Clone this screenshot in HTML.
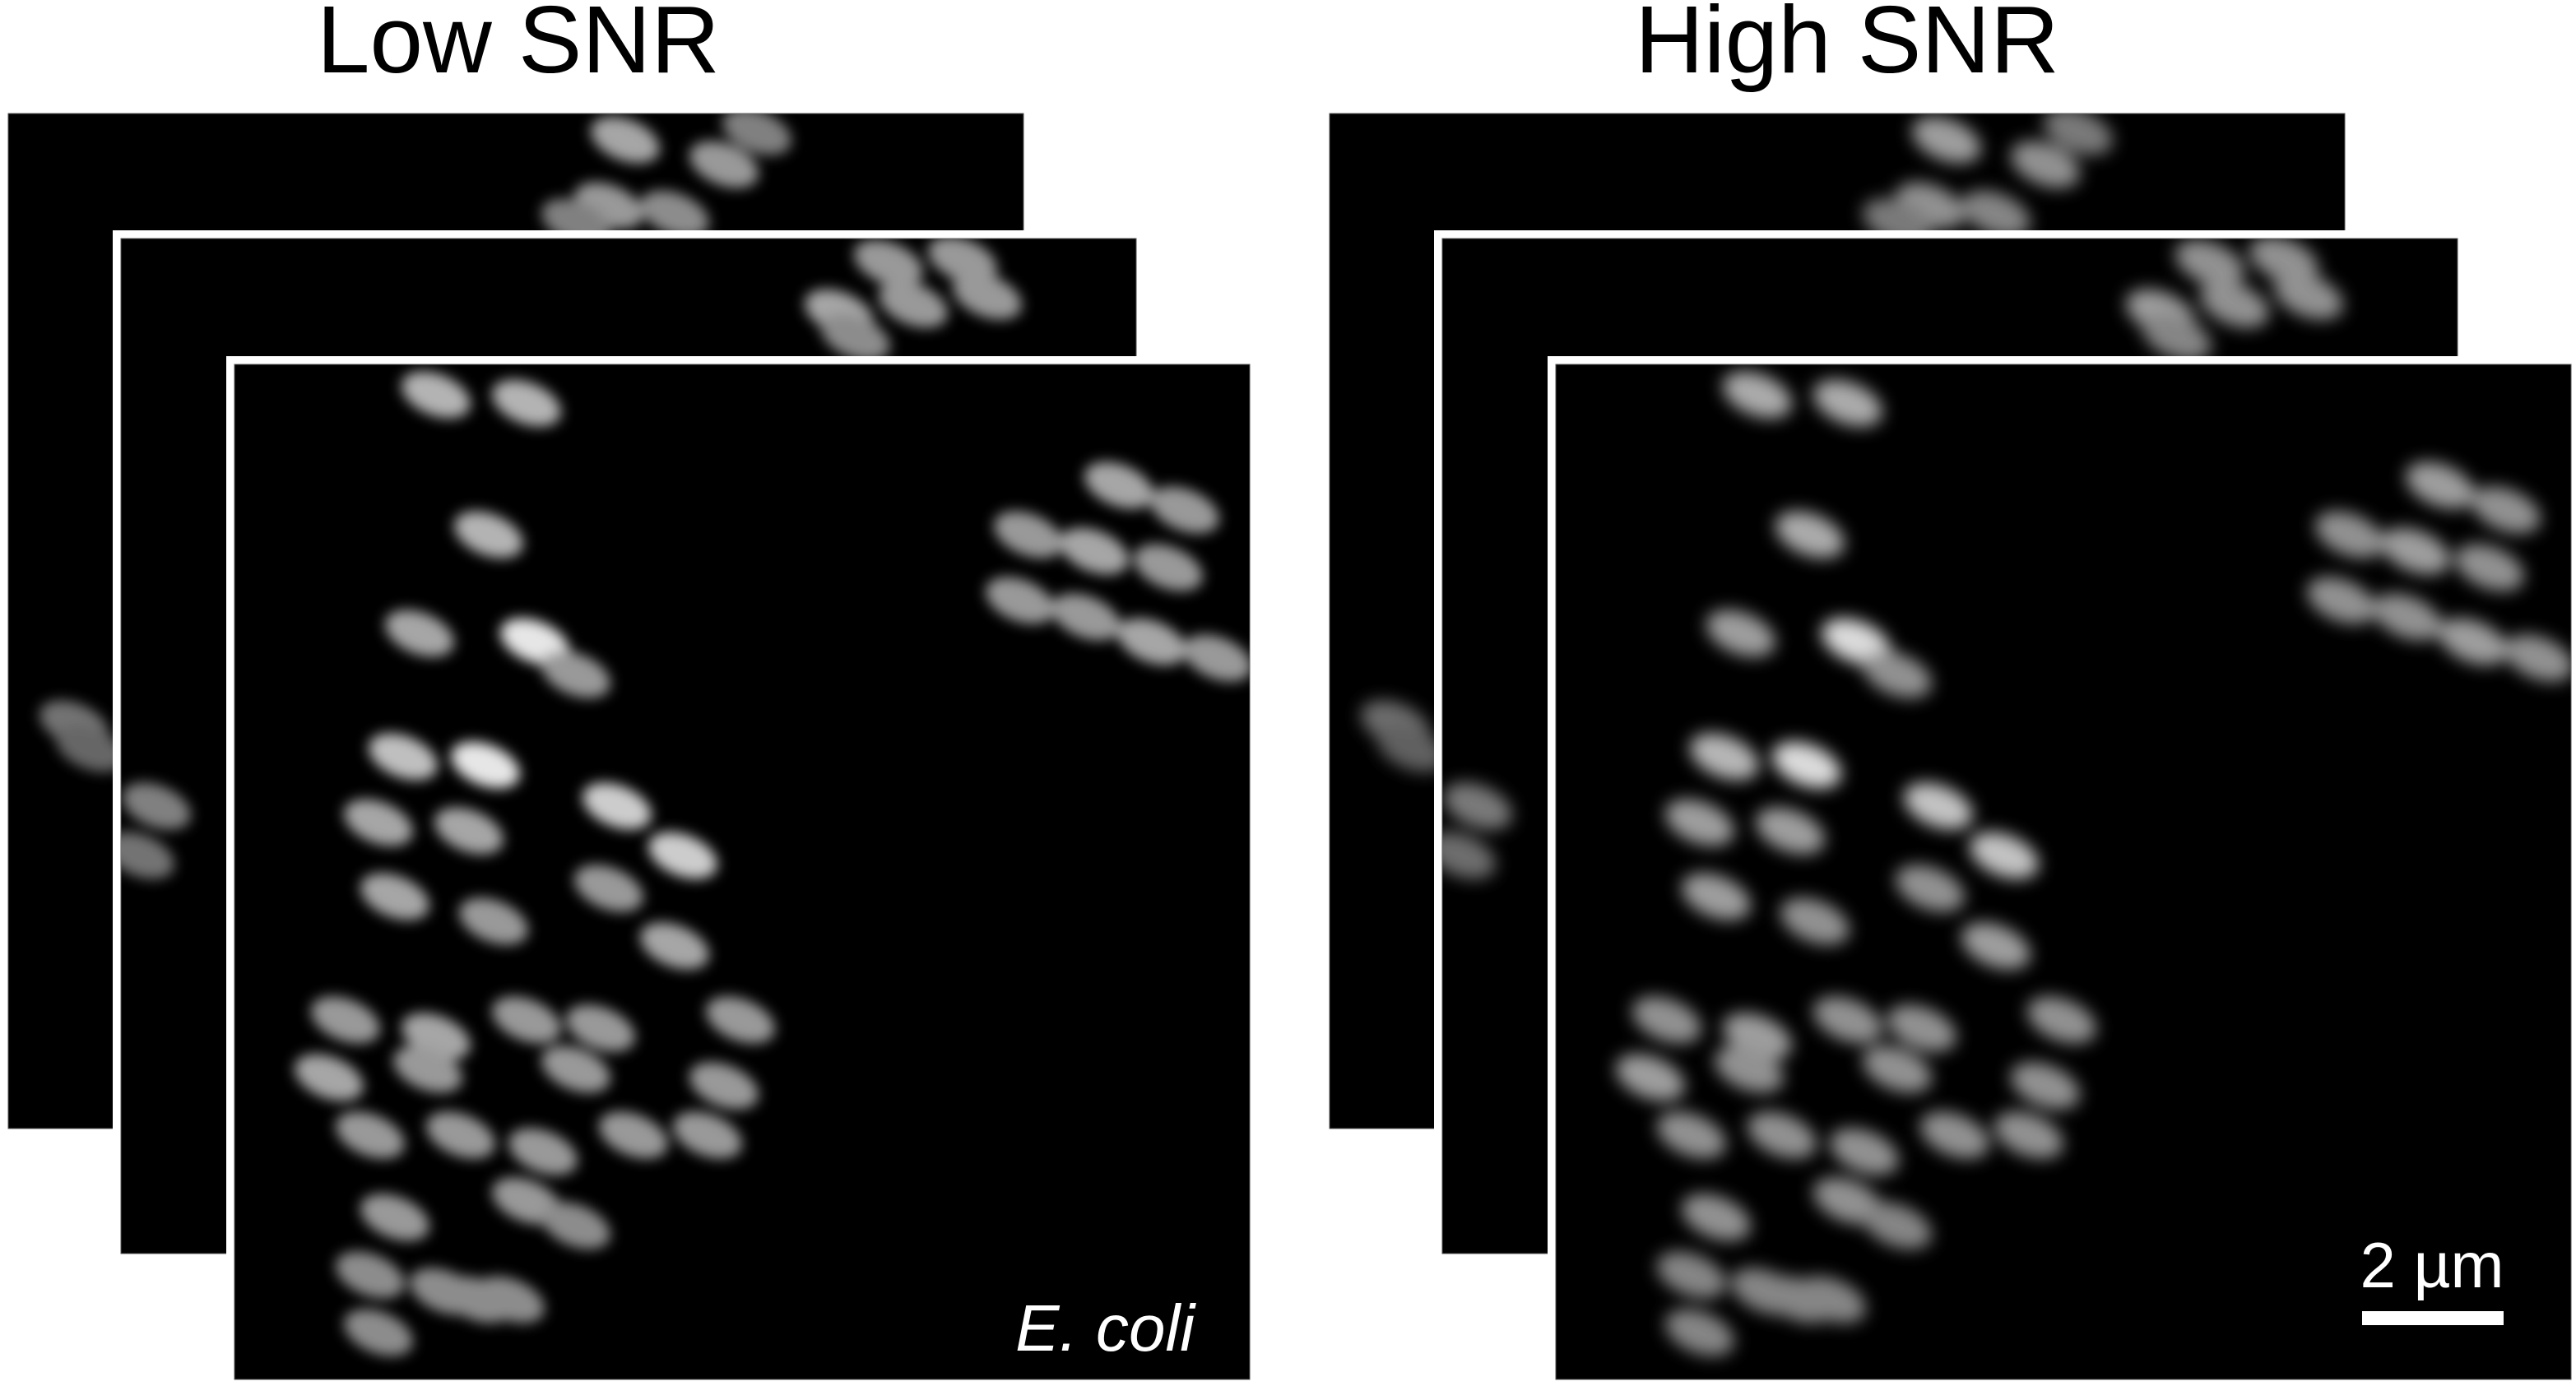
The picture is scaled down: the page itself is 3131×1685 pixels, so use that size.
<!DOCTYPE html>
<html><head><meta charset="utf-8"><style>
html,body{margin:0;padding:0;background:#fff;}
svg{display:block;}
</style></head><body>
<svg id="fig" width="3131" height="1685" viewBox="0 0 3131 1685" xmlns="http://www.w3.org/2000/svg">
<defs>
<filter id="blurL" x="-50%" y="-50%" width="200%" height="200%"><feGaussianBlur stdDeviation="8"/></filter>
<filter id="blurH" x="-50%" y="-50%" width="200%" height="200%"><feGaussianBlur stdDeviation="10"/></filter>
</defs>
<text x="630" y="88" font-family="Liberation Sans, sans-serif" font-size="116" text-anchor="middle" fill="#000">Low SNR</text>
<text x="2245" y="88" font-family="Liberation Sans, sans-serif" font-size="116" text-anchor="middle" fill="#000">High SNR</text>
<g id="stacks"></g>
</svg>
<script>
// front-frame cell centres (page half-scale coords, read from Low SNR front frame)
const cellX = [265,320,297,255,325,350,245,295,230,285,240,300,375,415,370,410,210,265,320,365,450,200,260,350,440,225,280,330,385,430,240,320,350,225,270,310,230,290,680,720,625,665,710,620,660,700,740];
const cellY = [240,245,325,385,390,410,460,465,500,505,545,560,490,520,540,575,620,630,620,625,620,655,650,650,660,690,690,700,690,690,740,730,745,775,785,790,810,790,295,310,325,335,345,365,375,390,400];
const cellB = [0.7,0.7,0.7,0.65,0.9,0.6,0.75,0.9,0.65,0.65,0.65,0.6,0.8,0.8,0.6,0.65,0.6,0.65,0.6,0.6,0.6,0.65,0.6,0.6,0.6,0.6,0.6,0.6,0.6,0.6,0.6,0.6,0.55,0.55,0.55,0.55,0.55,0.55,0.65,0.6,0.6,0.65,0.6,0.6,0.6,0.65,0.6];
// middle-frame visible cells (page half coords)
const midX = [510,555,600,540,585,520,95,85];
const midY = [190,185,180,160,158,205,490,520];
const midB = [0.65,0.6,0.6,0.6,0.6,0.55,0.5,0.45];
// back-frame visible cells (page half coords)
const backX = [380,440,370,410,460,350,45,55];
const backY = [85,100,125,130,80,135,440,455];
const backB = [0.65,0.6,0.6,0.55,0.5,0.5,0.45,0.4];
const NS='http://www.w3.org/2000/svg';
const root=document.getElementById('stacks');
const SIZE=1234;
const frames=[{x:10,y:138,xs:backX,ys:backY,bs:backB,b:false,n:'back'},{x:147,y:290,xs:midX,ys:midY,bs:midB,b:true,n:'middle'},{x:285,y:443,xs:cellX,ys:cellY,bs:cellB,b:true,n:'front'}];
const stacks=[{dx:0,f:'blurL',k:1,n:'low-snr'},{dx:1606,f:'blurH',k:0.95,n:'high-snr'}];
let cid=0;
stacks.forEach(s=>{
  frames.forEach(fr=>{
    const fx=fr.x+s.dx, fy=fr.y;
    if(fr.b){
      const w=document.createElementNS(NS,'rect');
      w.setAttribute('x',fx-10);w.setAttribute('y',fy-10);w.setAttribute('width',SIZE+20);w.setAttribute('height',SIZE+20);w.setAttribute('fill','#fff');
      
      
      root.appendChild(w);
    }
    const cp=document.createElementNS(NS,'clipPath');cp.setAttribute('id','c'+cid);
    const cr=document.createElementNS(NS,'rect');cr.setAttribute('x',fx);cr.setAttribute('y',fy);cr.setAttribute('width',SIZE);cr.setAttribute('height',SIZE);
    cp.appendChild(cr);root.appendChild(cp);
    const bg=document.createElementNS(NS,'rect');
    bg.setAttribute('x',fx);bg.setAttribute('y',fy);bg.setAttribute('width',SIZE);bg.setAttribute('height',SIZE);bg.setAttribute('fill','#000');bg.setAttribute('stroke','#555');bg.setAttribute('stroke-width','1');
    
    
    root.appendChild(bg);
    const g=document.createElementNS(NS,'g');g.setAttribute('clip-path','url(#c'+cid+')');cid++;
    const gi=document.createElementNS(NS,'g');gi.setAttribute('filter','url(#'+s.f+')');
    g.appendChild(gi);
    fr.xs.forEach((cx,i)=>{
      const px=cx*2+s.dx;
      const py=fr.ys[i]*2;
      const e=document.createElementNS(NS,'ellipse');
      e.setAttribute('cx',px);e.setAttribute('cy',py);e.setAttribute('rx',44);e.setAttribute('ry',25);
      e.setAttribute('transform','rotate(22 '+px+' '+py+')');
      const v=Math.round(255*fr.bs[i]*s.k);
      e.setAttribute('fill','rgb('+v+','+v+','+v+')');
      
      
      gi.appendChild(e);
    });
    root.appendChild(g);
  });
});
const t1=document.createElementNS(NS,'text');
t1.setAttribute('x',1452);t1.setAttribute('y',1642);t1.setAttribute('font-family','Liberation Sans, sans-serif');t1.setAttribute('font-size','80');t1.setAttribute('font-style','italic');t1.setAttribute('fill','#fff');t1.setAttribute('text-anchor','end');
t1.textContent='E. coli';


root.appendChild(t1);
const t2=document.createElementNS(NS,'text');
t2.setAttribute('x',2956);t2.setAttribute('y',1565);t2.setAttribute('font-family','Liberation Sans, sans-serif');t2.setAttribute('font-size','78');t2.setAttribute('fill','#fff');t2.setAttribute('text-anchor','middle');
t2.textContent='2 µm';


root.appendChild(t2);
const sb=document.createElementNS(NS,'rect');
sb.setAttribute('x',2871);sb.setAttribute('y',1594);sb.setAttribute('width',172);sb.setAttribute('height',17);sb.setAttribute('fill','#fff');


root.appendChild(sb);
</script>
</body></html>
